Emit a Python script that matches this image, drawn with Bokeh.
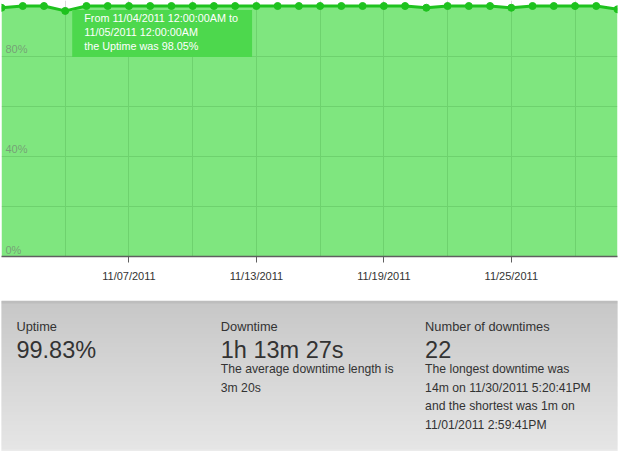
from datetime import datetime, timedelta
import numpy as np
from bokeh.plotting import figure
from bokeh.models import Range1d, FixedTicker, DatetimeTickFormatter, Label
from bokeh.layouts import column
from bokeh.embed import file_html
from bokeh.resources import INLINE
from bokeh.core.properties import value

# ---------------- data ----------------
start_day = datetime(2011, 11, 1)
days = [start_day + timedelta(days=i) for i in range(30)]
uptime = [99.3, 100, 100, 98.05, 100, 100, 100, 100, 100, 100,
          100, 100, 100, 100, 100, 100, 100, 100, 100, 100,
          99.3, 100, 100, 100, 99.3, 100, 100, 100, 100, 98.7]
x_tick_dates = [datetime(2011, 11, 7), datetime(2011, 11, 13),
                datetime(2011, 11, 19), datetime(2011, 11, 25)]
x_grid_dates = [datetime(2011, 11, d) for d in (4, 7, 10, 13, 16, 19, 22, 25, 28)]
y_grid_values = [20, 40, 60, 80]
y_tick_values = [0, 40, 80]
y_tick_labels = ["0%", "40%", "80%"]
tooltip_index = 3

stat_titles = ["Uptime", "Downtime", "Number of downtimes"]
stat_values = ["99.83%", "1h 13m 27s", "22"]
stat_details = [[],
                ["The average downtime length is", "3m 20s"],
                ["The longest downtime was", "14m on 11/30/2011 5:20:41PM",
                 "and the shortest was 1m on", "11/01/2011 2:59:41PM"]]

FONT = "Liberation Sans"


def ms(d):
    return (d - datetime(1970, 1, 1)).total_seconds() * 1000.0


# ---------------- chart ----------------
p = figure(width=618, height=300, x_axis_type="datetime",
           x_range=Range1d(days[0], days[-1]), y_range=Range1d(0, 102.2),
           output_backend="svg", toolbar_location=None,
           min_border_left=1, min_border_right=1, min_border_top=0,
           min_border_bottom=44)
p.outline_line_color = None
p.background_fill_color = "white"
p.border_fill_color = "white"

p.xgrid.ticker = FixedTicker(ticks=[ms(d) for d in x_grid_dates])
p.ygrid.ticker = FixedTicker(ticks=y_grid_values)
p.grid.grid_line_color = "#dcd7dc"
p.grid.grid_line_width = 1

p.varea(x=days, y1=0, y2=uptime, fill_color="#00cd00", fill_alpha=0.5)
p.line(days, uptime, line_color="#1ec21e", line_width=3)
p.scatter(days, uptime, size=7, fill_color="#1ec21e", line_color="#1ec21e")

p.text(x=[days[0]] * len(y_tick_values), y=y_tick_values, text=y_tick_labels,
       x_offset=4, y_offset=-7, text_baseline="alphabetic", text_align="left",
       text_font=value(FONT), text_font_size="11px", text_color="#707070",
       text_alpha=0.6)

p.yaxis.visible = False
xa = p.xaxis[0]
xa.ticker = FixedTicker(ticks=[ms(d) for d in x_tick_dates])
fmt = "%m/%d/%Y"
xa.formatter = DatetimeTickFormatter(days=fmt, months=fmt, years=fmt, hours=fmt,
                                     hourmin=fmt, minutes=fmt)
xa.axis_line_color = "#5f5f5f"
xa.axis_line_width = 1.5
xa.major_tick_line_color = "#5f5f5f"
xa.major_tick_out = 6
xa.major_tick_in = 0
xa.minor_tick_line_color = None
xa.major_label_text_font = FONT
xa.major_label_text_font_size = "11px"
xa.major_label_text_color = "#333333"
xa.major_label_standoff = 7

t0 = days[tooltip_index]
t1 = days[tooltip_index + 1]
tip_text = ("From %s 12:00:00AM to\n%s 12:00:00AM\nthe Uptime was %.2f%%"
            % (t0.strftime("%m/%d/%Y"), t1.strftime("%m/%d/%Y"), uptime[tooltip_index]))
tip = Label(x=t0, y=uptime[tooltip_index], x_offset=7, y_offset=1,
            anchor="top_left", text=tip_text, text_font=FONT,
            text_font_size="10.8px", text_color="white", text_line_height=1.17,
            background_fill_color="#4dd84d", background_fill_alpha=1.0,
            padding=(12, 14, 2, 5))
p.add_layout(tip)

# ---------------- stats panel ----------------
s = figure(width=618, height=151, x_range=Range1d(0, 618), y_range=Range1d(451, 300),
           output_backend="svg", toolbar_location=None,
           x_axis_location=None, y_axis_location=None,
           min_border_left=0, min_border_right=0, min_border_top=0, min_border_bottom=0)
s.grid.visible = False
s.outline_line_color = None
s.background_fill_color = "white"
s.border_fill_color = "white"

ys = np.arange(300, 451)
c_top = np.array([200, 200, 200])
c_bot = np.array([230, 230, 230])
cols = []
for yv in ys:
    if yv < 303:
        cols.append("#bdbdbd")
    elif yv >= 449:
        cols.append("#ebebeb")
    else:
        f = (yv - 303) / (449 - 303)
        c = (c_top + (c_bot - c_top) * f).astype(int)
        cols.append("#%02x%02x%02x" % tuple(c))
s.quad(left=-2, right=620, top=ys, bottom=ys + 1.6, fill_color=cols, line_color=None)

col_x = [15, 220, 425]
s.text(x=col_x, y=[326] * 3, text=stat_titles, text_font=value(FONT),
       text_font_size="12.8px", text_color="#333333", text_baseline="alphabetic")
s.text(x=col_x, y=[349] * 3, text=stat_values, text_font=value(FONT),
       text_font_size="23.5px", text_color="#333333", text_baseline="alphabetic")
dx, dy, dt = [], [], []
for cx, lines in zip(col_x, stat_details):
    for i, line in enumerate(lines):
        dx.append(cx)
        dy.append(368.5 + 18.7 * i)
        dt.append(line)
s.text(x=dx, y=dy, text=dt, text_font=value(FONT), text_font_size="12.2px",
       text_color="#333333", text_baseline="alphabetic")

layout = column(p, s, spacing=0)
open("out.html", "w").write(file_html(layout, INLINE))
